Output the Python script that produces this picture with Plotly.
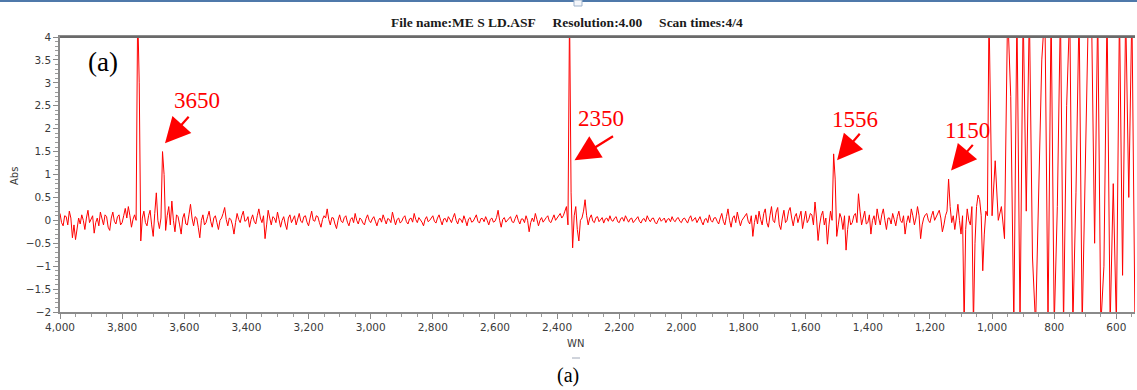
import numpy as np
import plotly.graph_objects as go

# ---- spectrum values (Abs) ----
# 5 cm-1 spacing from 4000 to 1015, 10 cm-1 spacing from 1010 to 540
abs_4000_3755 = [0.15, -0.05, -0.12, 0.1, 0.08, -0.1, 0.2, 0.05, -0.38, -0.1,
                 -0.42, -0.2, 0.05, -0.08, 0.12, 0.0, -0.2, 0.05, 0.22, -0.05,
                 0.02, 0.1, -0.28, -0.05, 0.05, -0.12, 0.18, 0.02, -0.1, 0.12,
                 0.08, -0.15, -0.22, 0.05, 0.18, -0.02, -0.08, 0.08, 0.12, -0.1,
                 -0.05, 0.1, 0.26, 0.05, 0.3, 0.1, -0.15, 0.02, 0.12, 0.0]
abs_3750_3505 = [4.6, 3.0, -0.45, 0.05, 0.2, -0.05, -0.12, 0.1, 0.22, -0.1,
                 -0.35, 0.15, 0.6, 0.0, -0.18, 0.05, 1.5, 1.0, -0.22, 0.1,
                 0.3, -0.1, 0.42, 0.0, -0.25, 0.12, 0.08, -0.1, -0.3, 0.05,
                 0.15, -0.08, -0.1, 0.12, 0.35, 0.05, -0.12, 0.08, 0.05, -0.15,
                 -0.38, 0.0, 0.12, -0.1, -0.05, 0.08, 0.2, -0.02, -0.15, 0.05]
abs_3500_3005 = [0.1, -0.05, -0.2, 0.0, 0.05, 0.15, 0.28, 0.02, -0.12, 0.05,
                 0.02, -0.1, -0.3, -0.05, 0.15, 0.02, -0.05, 0.1, 0.2, -0.02,
                 0.0, 0.08, -0.15, 0.02, 0.12, -0.02, -0.08, 0.1, 0.25, 0.05,
                 -0.05, 0.1, -0.4, -0.1, 0.22, 0.05, -0.1, 0.08, 0.05, -0.05,
                 0.18, 0.02, -0.15, 0.0, 0.08, -0.08, -0.2, 0.05, 0.12, -0.05,
                 0.02, 0.1, -0.1, 0.05, 0.15, -0.02, -0.05, 0.08, 0.1, -0.04,
                 -0.12, 0.05, 0.2, 0.0, -0.02, 0.1, 0.08, -0.05, -0.15, 0.02,
                 0.1, 0.05, 0.25, 0.02, -0.1, 0.06, 0.05, -0.08, -0.18, 0.0,
                 0.12, -0.02, -0.05, 0.06, 0.1, -0.04, -0.12, 0.02, 0.06, -0.05,
                 0.15, 0.0, -0.08, 0.05, 0.02, -0.06, -0.1, 0.04, 0.12, 0.0]
abs_3000_2375 = [-0.05, 0.03, 0.08, -0.02, -0.12, 0.0, 0.05, -0.04, 0.12, 0.02,
                 -0.08, 0.04, 0.02, -0.05, 0.18, 0.03, -0.1, 0.02, 0.05, -0.06,
                 -0.02, 0.06, 0.1, -0.03, -0.08, 0.03, 0.05, -0.04, 0.15, 0.02,
                 -0.05, 0.06, 0.02, -0.04, -0.12, 0.02, 0.08, -0.03, 0.0, 0.05,
                 0.1, -0.02, -0.06, 0.05, 0.12, 0.0, -0.1, 0.03, 0.04, -0.04,
                 0.08, 0.02, -0.05, 0.06, 0.15, 0.0, -0.08, 0.04, 0.02, -0.05,
                 0.1, 0.0, -0.12, 0.03, 0.06, -0.04, -0.02, 0.05, 0.12, -0.02,
                 -0.06, 0.04, 0.04, -0.03, 0.08, 0.0, -0.1, 0.02, 0.05, -0.04,
                 -0.02, 0.06, 0.22, 0.0, -0.15, 0.02, 0.06, -0.04, 0.0, 0.05,
                 0.08, -0.03, -0.05, 0.04, 0.12, 0.0, -0.08, 0.03, 0.03, -0.05,
                 0.1, 0.0, -0.25, -0.05, 0.05, -0.03, 0.15, 0.02, -0.12, 0.0,
                 0.06, -0.04, 0.02, 0.06, 0.1, -0.02, -0.05, 0.05, 0.12, 0.0,
                 0.05, 0.1, 0.15, 0.05, 0.1, 0.2]
abs_2370_1995 = [0.3, -0.1, 4.6, 0.6, -0.6, 0.1, 0.3, -0.2, -0.45, 0.0,
                 0.05, 0.2, 0.45, 0.1, -0.1, 0.05, 0.12, -0.02, -0.05, 0.06,
                 0.08, -0.03, 0.02, 0.06, -0.06, 0.03, 0.05, -0.02, 0.1, 0.0,
                 -0.02, 0.05, 0.08, -0.03, -0.05, 0.04, 0.06, -0.02, 0.1, 0.02,
                 -0.04, 0.03, 0.05, -0.05, 0.0, 0.04, 0.08, -0.02, -0.06, 0.02,
                 0.04, -0.03, 0.1, 0.02, -0.03, 0.04, 0.05, -0.04, -0.08, 0.0,
                 0.06, -0.02, 0.02, 0.05, -0.05, 0.02, 0.04, -0.03, 0.08, 0.0,
                 -0.03, 0.04, 0.06, -0.02, -0.05, 0.03]
abs_1990_1555 = [0.05, 0.0, -0.06, 0.04, 0.1, -0.02, 0.02, 0.06, -0.05, 0.02,
                 0.08, -0.03, -0.1, 0.02, 0.04, -0.05, 0.12, 0.0, -0.04, 0.05,
                 0.06, -0.02, -0.08, 0.05, 0.15, -0.02, -0.1, 0.08, 0.25, 0.0,
                 -0.15, 0.05, 0.1, -0.05, 0.18, 0.02, -0.12, 0.0, 0.05, 0.12,
                 0.15, -0.02, -0.08, 0.1, -0.35, -0.05, 0.12, -0.08, 0.2, 0.02,
                 -0.1, 0.15, 0.25, -0.05, -0.15, 0.1, 0.3, 0.0, -0.05, 0.18,
                 0.28, -0.1, -0.2, 0.05, 0.22, -0.05, 0.0, 0.2, 0.28, 0.05,
                 -0.12, 0.08, 0.15, -0.05, 0.05, 0.2, -0.18, 0.0, 0.2, -0.05,
                 0.02, 0.15, 0.12, -0.1, 0.4, 0.05, -0.44, -0.1]
abs_1550_1015 = [0.1, 0.2, -0.1, 0.05, -0.52, -0.1, 0.2, 0.0, 1.45, 0.9,
                 -0.35, -0.1, 0.15, 0.05, -0.2, 0.1, -0.65, -0.2, 0.1, -0.1,
                 -0.05, 0.1, 0.15, -0.05, 0.58, 0.2, -0.1, 0.05, 0.2, -0.08,
                 -0.05, 0.12, -0.3, 0.0, 0.1, -0.1, 0.25, 0.05, -0.1, 0.12,
                 0.25, 0.0, -0.2, 0.05, 0.05, -0.08, 0.15, 0.02, -0.12, 0.08,
                 0.2, 0.0, -0.05, 0.1, -0.3, -0.05, 0.1, -0.05, 0.25, 0.1,
                 -0.1, 0.05, 0.3, 0.1, -0.4, -0.1, 0.05, 0.12, 0.15, 0.0,
                 -0.05, 0.1, 0.2, 0.0, 0.08, 0.15, 0.22, 0.05, -0.25, -0.1,
                 0.1, 0.2, 0.9, 0.3, -0.05, 0.1, -0.2, 0.05, 0.35, 0.0,
                 -0.3, 0.1, -2.3, -0.2, 0.25, 0.0, -0.1, 0.3, -2.3, -0.5,
                 0.3, 0.55, 0.45, 0.1, -1.1, -0.3, 0.2, 0.1]
abs_1010_540 = [4.6, 0.1, 1.3, 0.0, 0.3, -0.4, 4.6, 2.7, -2.3, 4.6,
                -2.3, 4.6, 0.2, 4.6, -0.8, -2.3, 0.5, 3.5, 4.6, -2.3,
                4.6, -2.3, 0.3, 4.6, -2.3, 2.5, 4.6, -2.3, 0.6, 4.6,
                -2.3, 1.5, 4.6, 4.6, -0.5, 4.6, -2.3, -1.0, 4.6, -2.3,
                0.8, -2.3, 4.6, -1.2, 4.6, 0.5, 4.6, -2.3]

# (first wavenumber, spacing, values) for each block of the spectrum
segments = [(4000, 5, abs_4000_3755), (3750, 5, abs_3750_3505),
            (3500, 5, abs_3500_3005), (3000, 5, abs_3000_2375),
            (2370, 5, abs_2370_1995), (1990, 5, abs_1990_1555),
            (1550, 5, abs_1550_1015), (1010, 10, abs_1010_540)]
wavenumber, absorbance = [], []
for start, step, vals in segments:
    wavenumber.extend(start - step * np.arange(len(vals)))
    absorbance.extend(vals)

# ---- peak labels and where their arrows point (wavenumber, Abs) ----
peak_labels = ["3650", "2350", "1556", "1150"]
peak_tip_wn = [3662, 2344, 1499, 1132]
peak_tip_abs = [1.68, 1.31, 1.31, 1.09]

W, H = 1137, 390
L, R, T, B = 60, 2, 37, 78
PW, PH = W - L - R, H - T - B


def px(x):
    return (x - L) / PW


def py(y):
    return (H - B - y) / PH


RED = "#ff0000"
fig = go.Figure()
fig.add_trace(go.Scatter(x=wavenumber, y=absorbance, mode="lines",
                         line=dict(color=RED, width=1), hoverinfo="skip",
                         showlegend=False))

tick_font = dict(family="DejaVu Sans", size=10.5, color="#3a3a3a")
fig.update_layout(
    width=W, height=H,
    margin=dict(l=L, r=R, t=T, b=B),
    paper_bgcolor="white", plot_bgcolor="white",
    xaxis=dict(range=[4000, 540], autorange=False, tickmode="linear", tick0=4000,
               dtick=200, tickformat=",d", showgrid=False, zeroline=False,
               showline=True, linecolor="#8a8a8a", linewidth=1.5, mirror=True,
               ticks="outside", ticklen=5, tickcolor="#8a8a8a",
               minor=dict(dtick=50, ticks="outside", ticklen=3, tickcolor="#9a9a9a"),
               tickfont=tick_font),
    yaxis=dict(range=[-2, 4], autorange=False, tickmode="linear", tick0=-2, dtick=0.5,
               showgrid=False, zeroline=False, showline=True, linecolor="#8a8a8a",
               linewidth=1.5, ticks="outside", ticklen=5, tickcolor="#8a8a8a",
               minor=dict(dtick=0.1, ticks="outside", ticklen=3, tickcolor="#9a9a9a"),
               tickfont=tick_font),
)

# darker frame line along the top of the plot area
fig.add_shape(type="line", xref="paper", yref="paper", x0=0, x1=1, y0=1, y1=1,
              line=dict(color="#6a6a6a", width=2))
# page border strip at the very top
fig.add_shape(type="rect", xref="paper", yref="paper", x0=px(0), x1=px(W),
              y0=py(2), y1=py(0), line=dict(width=0), fillcolor="#4f79aa")
fig.add_shape(type="rect", xref="paper", yref="paper", x0=px(574), x1=px(582),
              y0=py(6), y1=py(0), line=dict(color="#9fb3cc", width=1),
              fillcolor="#f4f6fa")
# small mark above the caption
fig.add_shape(type="line", xref="paper", yref="paper", x0=px(572), x1=px(580),
              y0=py(358), y1=py(358), line=dict(color="#a0a8b8", width=1))


def text_at(x, y, text, font, **kw):
    return dict(x=px(x), y=py(y), xref="paper", yref="paper", showarrow=False,
                xanchor="center", yanchor="middle", text=text, font=font, **kw)


sp = "&nbsp;" * 5
ann = [
    text_at(567, 23, "<b>File name:ME S LD.ASF" + sp + "Resolution:4.00" + sp +
            "Scan times:4/4</b>",
            dict(family="Liberation Serif", size=13.5, color="#1a1a1a")),
    text_at(575, 343, "WN", dict(family="DejaVu Sans", size=10, color="#3a3a3a")),
    text_at(15, 176, "Abs", dict(family="DejaVu Sans", size=10, color="#3a3a3a"),
            textangle=-90),
    text_at(103, 62, "(a)", dict(family="Liberation Serif", size=27, color="black")),
    text_at(568, 375, "(a)", dict(family="Liberation Serif", size=20, color="black")),
]

label_px = [(197, 100), (601, 118), (855, 120), (967, 130)]
tail_off = [(25, -28), (40, -25), (24, -28), (23, -27)]
for lab, wn, a, (lx, ly), (ax, ay) in zip(peak_labels, peak_tip_wn, peak_tip_abs,
                                          label_px, tail_off):
    ann.append(text_at(lx, ly, lab, dict(family="Liberation Serif", size=23, color=RED)))
    ann.append(dict(x=wn, y=a, xref="x", yref="y", text="", showarrow=True,
                    ax=ax, ay=ay, arrowhead=2, arrowsize=2.3, arrowwidth=2.2,
                    arrowcolor=RED, standoff=0))

fig.update_layout(annotations=ann)
fig.write_html("out.html")
